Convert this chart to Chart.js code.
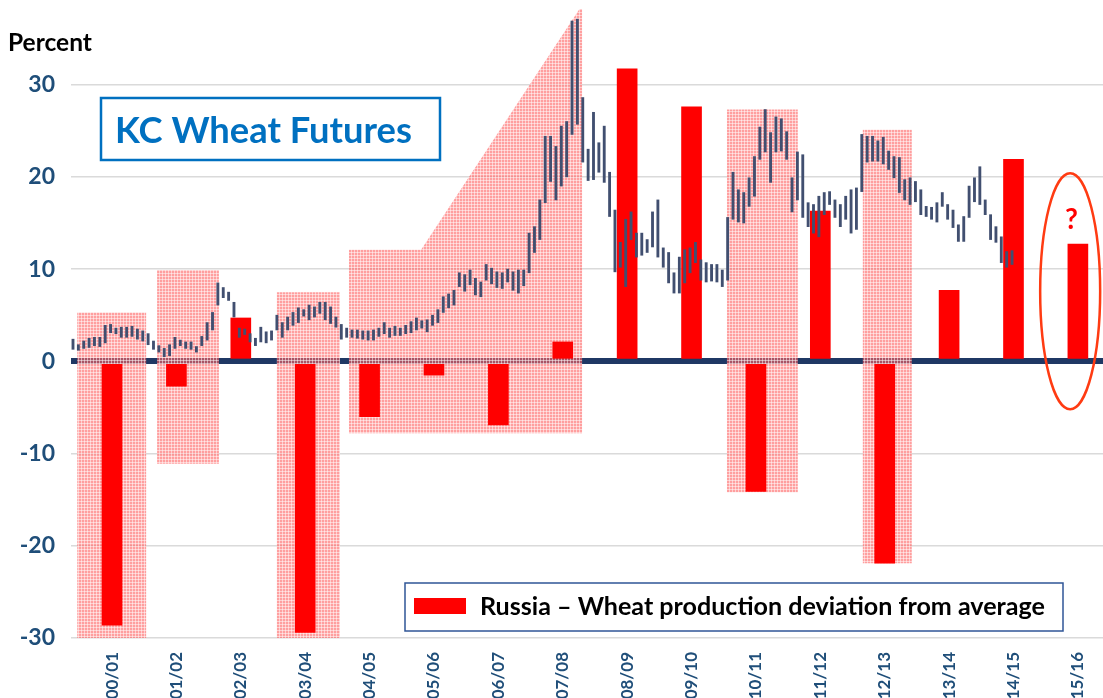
<!DOCTYPE html>
<html>
<head>
<meta charset="utf-8">
<script src="https://cdn.jsdelivr.net/npm/chart.js@4.4.1/dist/chart.umd.min.js"></script>
<style>
	html, body { margin: 0; padding: 0; background: #fff; }
	#wrap { width: 1103px; height: 698px; position: relative; }
</style>
</head>
<body>
<div id="wrap"><canvas id="chart" width="1103" height="698"></canvas></div>
<script>
// seasons on the x axis
const seasons = ['00/01', '01/02', '02/03', '03/04', '04/05', '05/06', '06/07', '07/08',
	'08/09', '09/10', '10/11', '11/12', '12/13', '13/14', '14/15', '15/16'];

// Russia - wheat production deviation from average (percent)
const russiaDeviation = [-28.6, -2.7, 4.7, -29.4, -6.0, -1.5, -6.9, 2.1,
	31.7, 27.6, -14.1, 16.3, -21.9, 7.7, 21.9, 12.7];

// KC wheat futures, monthly low / high (percent scale), first month sits just before 00/01
const futuresStart = -0.606;
const futuresLow = [
	1.3, 1.2, 1.4, 1.5, 1.7, 1.6, 2.0, 3.1, 3.0, 2.6, 2.6, 2.7, 2.4, 2.2, 1.8, 1.3,
	1.0, 0.5, 0.6, 1.4, 1.7, 1.4, 1.3, 1.0, 1.7, 2.3, 3.4, 6.1, 6.9, 6.6, 4.8, 2.6,
	2.9, 2.1, 1.7, 2.1, 2.0, 2.3, 3.4, 2.6, 3.4, 3.9, 4.2, 4.9, 4.5, 4.8, 5.2, 4.5,
	4.1, 3.7, 2.4, 2.6, 2.6, 2.5, 2.4, 2.3, 2.3, 2.7, 3.0, 2.6, 2.8, 2.8, 3.0, 3.1,
	3.4, 3.6, 3.2, 3.9, 4.2, 5.3, 5.8, 6.1, 8.1, 7.6, 8.3, 7.2, 7.0, 8.8, 8.4, 8.0,
	7.9, 8.6, 7.7, 7.4, 8.2, 9.6, 11.8, 13.2, 17.2, 19.5, 17.5, 19.0, 20.0, 24.6, 25.7, 21.6,
	19.6, 19.7, 20.5, 19.4, 15.7, 9.7, 10.2, 8.1, 13.2, 11.3, 11.5, 11.8, 12.4, 11.3, 10.2, 8.5,
	7.4, 7.4, 8.5, 9.6, 10.7, 8.8, 8.6, 8.7, 8.6, 8.1, 8.8, 15.4, 15.1, 15.0, 16.8, 17.9,
	21.9, 22.7, 19.4, 22.7, 22.8, 21.9, 16.2, 17.5, 15.6, 14.6, 13.9, 13.5, 15.9, 17.0, 15.6, 14.6,
	15.4, 13.9, 14.3, 18.4, 21.6, 21.7, 21.7, 21.4, 20.8, 19.9, 18.3, 17.5, 17.0, 17.3, 15.9, 15.7,
	15.4, 15.1, 16.8, 15.4, 14.5, 13.0, 13.0, 15.6, 17.3, 17.0, 15.9, 13.2, 12.9, 10.7, 10.2, 10.5
];
const futuresHigh = [
	2.4, 1.8, 2.2, 2.5, 2.6, 2.6, 3.9, 4.0, 3.6, 3.7, 3.7, 3.8, 3.5, 3.3, 3.0, 2.2,
	1.7, 1.4, 1.8, 2.6, 2.3, 2.1, 2.1, 1.6, 2.7, 4.2, 5.3, 8.5, 8.0, 7.5, 6.4, 3.6,
	3.5, 3.0, 2.5, 3.7, 3.2, 3.3, 5.0, 4.2, 4.8, 5.3, 5.8, 5.6, 6.1, 5.9, 6.4, 6.4,
	5.9, 4.8, 4.0, 3.6, 3.4, 3.4, 3.3, 3.3, 3.4, 3.6, 4.2, 3.6, 3.8, 3.6, 3.9, 4.3,
	4.7, 4.4, 4.5, 5.0, 5.6, 7.0, 7.3, 7.7, 9.6, 9.4, 9.9, 9.0, 8.6, 10.5, 10.1, 9.7,
	9.6, 10.0, 9.7, 9.9, 9.9, 13.9, 14.6, 17.5, 24.4, 24.4, 23.3, 25.5, 26.0, 36.9, 37.1, 28.6,
	23.0, 27.0, 23.7, 25.5, 20.5, 16.4, 12.9, 15.4, 16.2, 13.9, 13.9, 13.2, 16.2, 17.5, 12.3, 11.8,
	9.6, 11.3, 12.1, 12.3, 12.9, 11.0, 10.7, 10.5, 10.5, 9.9, 15.6, 20.5, 18.6, 18.3, 19.9, 22.2,
	25.4, 27.3, 24.8, 26.5, 26.3, 24.9, 19.9, 22.7, 22.4, 17.2, 17.0, 17.9, 18.3, 18.4, 17.5, 17.0,
	17.9, 18.6, 18.8, 24.6, 24.4, 24.4, 23.9, 24.3, 22.8, 22.2, 22.1, 19.7, 19.9, 19.5, 18.6, 16.8,
	16.7, 17.2, 18.3, 17.0, 16.4, 14.8, 15.7, 19.0, 19.9, 21.1, 17.5, 15.9, 14.6, 13.5, 11.9, 12.0
];

// shaded pink periods, outlines in (season index, percent)
const highlightAreas = [
	[[-0.54, -30], [-0.54, 5.3], [0.53, 5.3], [0.53, -30]],
	[[0.70, -11.1], [0.70, 9.9], [1.66, 9.9], [1.66, -11.1]],
	[[2.56, -30], [2.56, 7.5], [3.54, 7.5], [3.54, -30]],
	[[3.68, -7.8], [3.68, 12.1], [4.80, 12.1], [7.26, 38.2], [7.30, 38.2], [7.30, -7.8]],
	[[9.55, -14.2], [9.55, 27.3], [10.65, 27.3], [10.65, -14.2]],
	[[11.66, -21.9], [11.66, 25.1], [12.42, 25.1], [12.42, -21.9]]
];

const legendText = 'Russia \u2013 Wheat production deviation from average';
const navy = '#1F4E79';

function pink_pattern(ctx) {
	let c = document.createElement('canvas');
	c.width = 3;
	c.height = 3;
	let g = c.getContext('2d');
	g.fillStyle = 'rgba(255, 100, 100, 0.62)';
	g.fillRect(0, 0, 3, 3);
	g.fillStyle = 'rgba(255, 255, 255, 0.5)';
	g.fillRect(0, 0, 3, 1);
	g.fillRect(0, 0, 1, 3);
	return ctx.createPattern(c, 'repeat');
}

function fit_font(ctx, text, weight, family, targetWidth) {
	ctx.font = weight + ' 20px ' + family;
	let w = ctx.measureText(text).width;
	return 20 * targetWidth / w;
}

const annotationPlugin = {
	id: 'annotations',
	beforeDatasetsDraw(chart) {
		const {ctx, chartArea, scales: {x, y}} = chart;
		ctx.save();
		ctx.beginPath();
		ctx.rect(chartArea.left, chartArea.top, chartArea.right - chartArea.left, chartArea.bottom - chartArea.top);
		ctx.clip();
		ctx.fillStyle = pink_pattern(ctx);
		highlightAreas.forEach(area => {
			ctx.beginPath();
			area.forEach((p, i) => {
				let px = x.getPixelForValue(p[0]);
				let py = y.getPixelForValue(p[1]);
				if (i == 0) ctx.moveTo(px, py); else ctx.lineTo(px, py);
			});
			ctx.closePath();
			ctx.fill();
		});
		ctx.restore();
	},
	afterDatasetsDraw(chart) {
		const {ctx, scales: {x, y}} = chart;
		ctx.save();

		// KC Wheat Futures box
		ctx.strokeStyle = '#0070C0';
		ctx.lineWidth = 2.5;
		ctx.strokeRect(101, 98, 339, 62);
		ctx.fillStyle = '#0070C0';
		let fs = fit_font(ctx, 'KC Wheat Futures', 'bold', 'Lato', 297);
		ctx.font = 'bold ' + fs + 'px Lato';
		ctx.textBaseline = 'middle';
		ctx.textAlign = 'left';
		ctx.fillText('KC Wheat Futures', 115, 131);

		// ellipse around the last season
		let cx = x.getPixelForValue(14.88);
		let cy = y.getPixelForValue(7.6);
		ctx.strokeStyle = '#FF3B12';
		ctx.lineWidth = 2.5;
		ctx.beginPath();
		ctx.ellipse(cx, cy, 30, 118, 0, 0, Math.PI * 2);
		ctx.stroke();
		ctx.fillStyle = '#FF0000';
		ctx.font = 'bold 28px Lato';
		ctx.textAlign = 'center';
		ctx.fillText('?', x.getPixelForValue(14.9), y.getPixelForValue(15.3));

		// legend box
		ctx.fillStyle = '#fff';
		ctx.fillRect(405, 583, 658, 48);
		ctx.strokeStyle = '#2F5597';
		ctx.lineWidth = 1.5;
		ctx.strokeRect(405, 583, 658, 48);
		ctx.fillStyle = '#FF0000';
		ctx.fillRect(414, 598, 52, 16);
		ctx.fillStyle = '#000';
		fs = fit_font(ctx, legendText, 'bold', 'Lato', 565);
		ctx.font = 'bold ' + fs + 'px Lato';
		ctx.textAlign = 'left';
		ctx.fillText(legendText, 480, 607);

		ctx.restore();
	},
	afterDraw(chart) {
		const ctx = chart.ctx;
		ctx.save();
		ctx.fillStyle = '#000';
		let fs = fit_font(ctx, 'Percent', 'bold', 'Lato', 84);
		ctx.font = 'bold ' + fs + 'px Lato';
		ctx.textBaseline = 'alphabetic';
		ctx.fillText('Percent', 8, 51);
		ctx.restore();
	}
};

let futuresData = futuresLow.map((lo, i) => ({x: futuresStart + i / 12, y: [lo, futuresHigh[i]]}));
let russiaData = russiaDeviation.map((v, i) => ({x: i, y: v}));

let ctx = document.getElementById('chart');
var myChart = new Chart(ctx, {
	type: 'bar',
	data: {
		datasets: [{
			label: 'KC Wheat Futures',
			data: futuresData,
			backgroundColor: '#414F70',
			barThickness: 2.2,
			grouped: false,
			order: 0,
		}, {
			label: legendText,
			data: russiaData,
			backgroundColor: '#FF0000',
			barThickness: 20,
			grouped: false,
			order: 1,
		}]
	},
	options: {
		responsive: false,
		animation: false,
		layout: {
			padding: {top: 9, left: 0, right: 0, bottom: 0}
		},
		plugins: {
			legend: {display: false},
			tooltip: {enabled: false}
		},
		scales: {
			x: {
				type: 'linear',
				min: -0.637,
				max: 15.39,
				offset: false,
				grid: {display: false, drawTicks: false},
				border: {display: false},
				afterBuildTicks: (scale) => {
					scale.ticks = seasons.map((s, i) => ({value: i}));
				},
				afterFit: (scale) => {
					scale.height = 60;
					scale.paddingLeft = 0;
					scale.paddingRight = 0;
				},
				ticks: {
					autoSkip: false,
					minRotation: 90,
					maxRotation: 90,
					padding: 14,
					color: navy,
					font: {family: 'Lato', weight: 'bold', size: 17},
					callback: (v) => seasons[Math.round(v)]
				}
			},
			y: {
				min: -30,
				max: 38.2,
				afterBuildTicks: (scale) => {
					scale.ticks = scale.ticks.filter(t => t.value % 10 == 0);
				},
				afterFit: (scale) => {
					scale.width = 71;
					scale.paddingTop = 0;
					scale.paddingBottom = 0;
				},
				border: {display: false},
				grid: {
					drawTicks: false,
					color: (c) => c.tick && c.tick.value == 0 ? '#1F3864' : '#DADADA',
					lineWidth: (c) => c.tick && c.tick.value == 0 ? 6 : 1.5
				},
				ticks: {
					stepSize: 10,
					padding: 16,
					color: navy,
					font: {family: 'Lato', weight: 'bold', size: 23}
				}
			}
		}
	},
	plugins: [annotationPlugin]
});
</script>
</body>
</html>
